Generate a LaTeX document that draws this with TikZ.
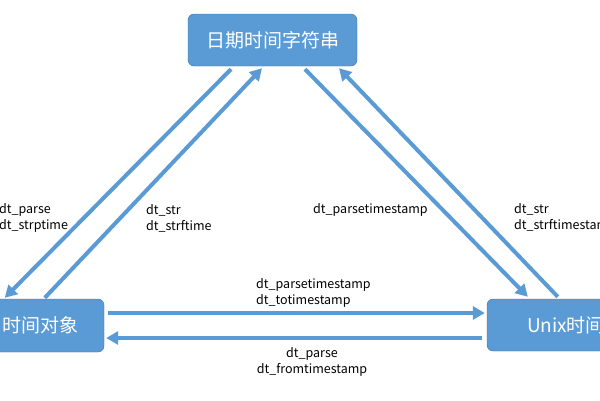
\documentclass[tikz,border=0pt]{standalone}
\usepackage{fontspec}
\setmainfont{Noto Sans CJK SC}
\usetikzlibrary{arrows.meta,calc}
\definecolor{boxfill}{RGB}{91,155,213}
\definecolor{boxline}{RGB}{65,113,156}
\begin{document}
\begin{tikzpicture}[x=1pt,y=-1pt,font=\fontsize{12.5}{16}\selectfont,
  box/.style={draw=boxline,fill=boxfill,rounded corners=6pt,minimum height=52pt,
    text=white,font=\fontsize{19}{19}\selectfont,inner sep=0pt},
  conv/.style={draw=boxfill,line width=4pt,-{Triangle[length=12pt,width=13pt]}},
  lbl/.style={align=left,inner sep=0pt}]
  \path[use as bounding box] (0,0) rectangle (600,400);
  \clip (0,0) rectangle (600,400);
  \node[box,minimum width=169pt] (str) at (272.5,40) {日期时间字符串};
  \node[box,minimum width=128pt,minimum height=53pt] (obj) at (40,325.5) {时间对象};
  \node[box,minimum width=158pt] (unix) at (566,325) {Unix时间};
  \draw[conv] ($(str.south)+(-41.5,3)$) -- ($(obj.north west)+(29,-1)$);
  \draw[conv] ($(obj.north west)+(69,-1)$) -- ($(str.south)+(-10.5,2)$);
  \draw[conv] ($(str.south)+(32.5,3)$) -- ($(unix.north west)+(41,-2)$);
  \draw[conv] ($(unix.north west)+(71,-2)$) -- ($(str.south)+(66.5,2)$);
  \draw[conv] ($(obj.east)+(4,-12.5)$) -- ($(unix.west)+(-2,-12)$);
  \draw[conv] ($(unix.west)+(-5,13)$) -- ($(obj.east)+(2,12.5)$);
  \node[lbl,anchor=west] (parse) at (-1,218) {dt\_parse\\dt\_strptime};
  \node[lbl,anchor=west] (strf) at (146,218) {dt\_str\\dt\_strftime};
  \node[lbl,anchor=west] (parsets) at (313,210) {dt\_parsetimestamp};
  \node[lbl,anchor=west] (strfts) at (514,218) {dt\_str\\dt\_strftimestamp};
  \node[lbl,anchor=west] (tots) at (256,293) {dt\_parsetimestamp\\dt\_totimestamp};
  \node[lbl,align=center] (fromts) at (312,361.5) {dt\_parse\\dt\_fromtimestamp};
\end{tikzpicture}
\end{document}
